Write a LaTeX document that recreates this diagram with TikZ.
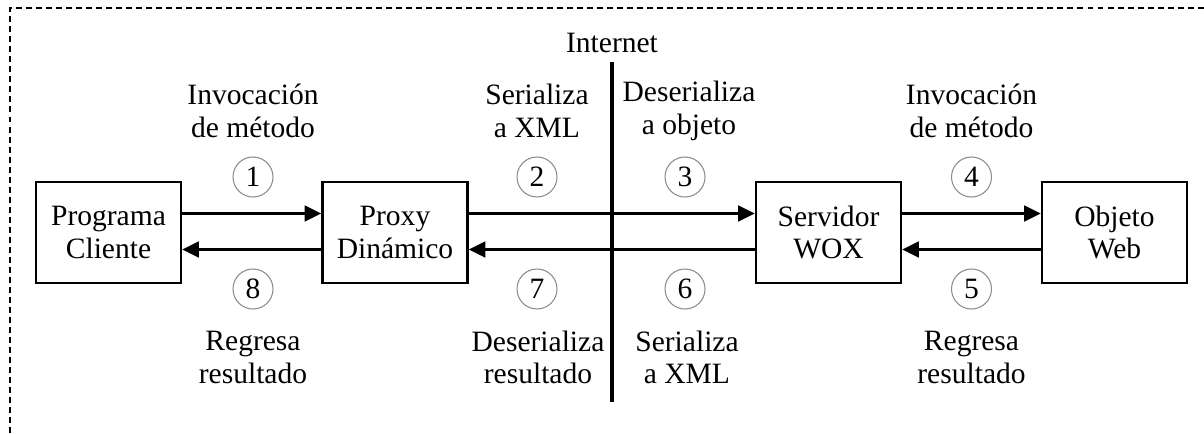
\documentclass[tikz,border=0pt]{standalone}
\usepackage{fontspec}
\setmainfont{Liberation Serif}
\usetikzlibrary{arrows.meta}

\tikzset{
	bloque/.style={draw, line width=1.4pt, minimum width=2.9cm, minimum height=2.02cm, align=center, inner sep=0pt},
	paso/.style={circle, draw=black!45, line width=0.6pt, minimum size=0.8cm, inner sep=0pt},
	nota/.style={align=center, inner sep=0pt},
	flecha/.style={line width=1.3pt, -{Triangle[length=9.5pt,width=9pt]}},
}

\begin{document}
\begin{tikzpicture}[x=1cm, y=1cm, font=\fontsize{16.8}{18.5}\selectfont]
	\useasboundingbox (0,0) rectangle (24.08,-8.66);
	\draw[line width=1pt, dash pattern=on 3.4pt off 2.3pt] (0.2,-8.66) -- (0.2,-0.16) -- (24.08,-0.16);

	\node (cliente) at (2.17,-4.65) [bloque] {Programa\\Cliente};
	\node (proxy) at (7.9,-4.65) [bloque] {Proxy\\Din\'amico};
	\node (servidor) at (16.57,-4.65) [bloque] {Servidor\\WOX};
	\node (objeto) at (22.29,-4.65) [bloque] {Objeto\\Web};

	% internet
	\node (inet) at (12.24,-0.86) {Internet};
	\coordinate (ia) at (12.24,-1.24);
	\coordinate (ib) at (12.24,-8.04);
	\draw[line width=1.8pt] (ia) -- (ib);

	% ida
	\draw[flecha] ([yshift=0.38cm]cliente.east) -- ([yshift=0.38cm]proxy.west);
	\draw[flecha] ([yshift=0.38cm]proxy.east) -- ([yshift=0.38cm]servidor.west);
	\draw[flecha] ([yshift=0.38cm]servidor.east) -- ([yshift=0.38cm]objeto.west);
	% regreso
	\draw[flecha] ([yshift=-0.34cm]objeto.west) -- ([yshift=-0.34cm]servidor.east);
	\draw[flecha] ([yshift=-0.34cm]servidor.west) -- ([yshift=-0.34cm]proxy.east);
	\draw[flecha] ([yshift=-0.34cm]proxy.west) -- ([yshift=-0.34cm]cliente.east);

	\node (p1) at (5.06,-3.54) [paso] {1};
	\node (p2) at (10.74,-3.54) [paso] {2};
	\node (p3) at (13.7,-3.54) [paso] {3};
	\node (p4) at (19.43,-3.54) [paso] {4};
	\node (p5) at (19.43,-5.78) [paso] {5};
	\node (p6) at (13.7,-5.78) [paso] {6};
	\node (p7) at (10.74,-5.78) [paso] {7};
	\node (p8) at (5.06,-5.78) [paso] {8};

	\node (t1) at (5.06,-2.22) [nota] {Invocaci\'on\\de m\'etodo};
	\node (t2) at (10.74,-2.22) [nota] {Serializa\\a XML};
	\node (t3) at (13.78,-2.22) [nota] {Deserializa\\a objeto};
	\node (t4) at (19.43,-2.22) [nota] {Invocaci\'on\\de m\'etodo};
	\node (t5) at (19.43,-7.15) [nota] {Regresa\\resultado};
	\node (t6) at (13.74,-7.15) [nota] {Serializa\\a XML};
	\node (t7) at (10.76,-7.15) [nota] {Deserializa\\resultado};
	\node (t8) at (5.06,-7.15) [nota] {Regresa\\resultado};
\end{tikzpicture}
\end{document}
